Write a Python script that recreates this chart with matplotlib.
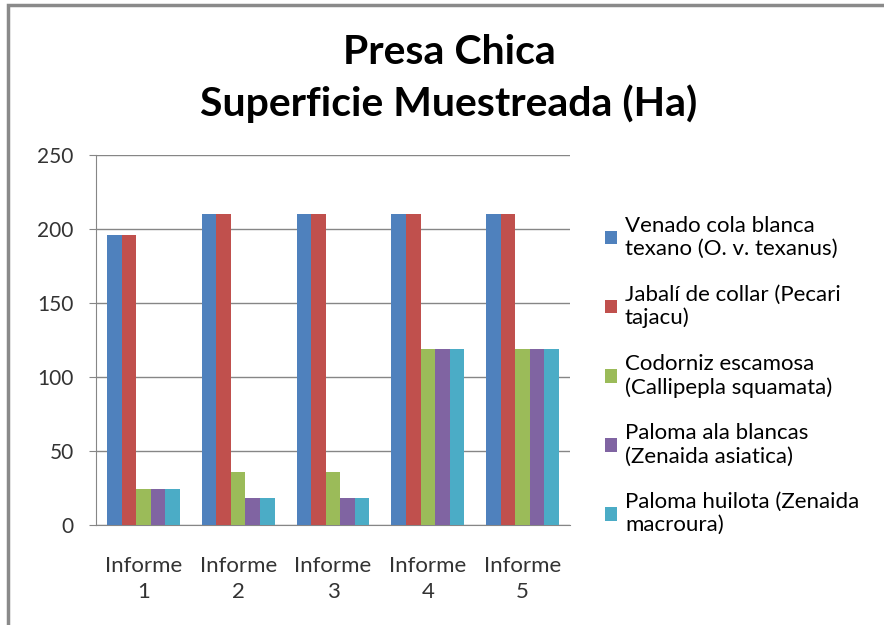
import numpy as np
import matplotlib.pyplot as plt
from matplotlib.patches import Rectangle

plt.rcParams['font.family'] = ['Lato', 'DejaVu Sans']

# data
categories = ["Informe\n1", "Informe\n2", "Informe\n3", "Informe\n4", "Informe\n5"]
venado = [196, 210, 210, 210, 210]
jabali = [196, 210, 210, 210, 210]
codorniz = [24, 36, 36, 119, 119]
paloma_ala = [24, 18, 18, 119, 119]
paloma_huilota = [24, 18, 18, 119, 119]

series = [venado, jabali, codorniz, paloma_ala, paloma_huilota]
labels = ["Venado cola blanca\ntexano (O. v. texanus)",
          "Jabalí de collar (Pecari\ntajacu)",
          "Codorniz escamosa\n(Callipepla squamata)",
          "Paloma ala blancas\n(Zenaida asiatica)",
          "Paloma huilota (Zenaida\nmacroura)"]
colors = ["#4F81BD", "#C0504D", "#9BBB59", "#8064A2", "#4BACC6"]

fig = plt.figure(figsize=(8.84, 6.25), dpi=100)
ax = fig.add_axes([96/884, 1-525/625, (570-96)/884, 370/625])

# outer chart border (only left and top visible in the reference)
fig.patches.append(Rectangle((8/884, -0.05), 1.2, 1-5/625+0.05, transform=fig.transFigure,
                             fill=False, edgecolor="#8a8a8a", linewidth=2.5))

x = np.arange(len(categories))
w = 1/6.5
for i, (vals, c, lab) in enumerate(zip(series, colors, labels)):
    ax.bar(x + (i-2)*w, vals, width=w, color=c, label=lab, zorder=3)

ax.set_xlim(-0.5, len(categories)-0.5)
ax.set_ylim(0, 250)
ax.set_yticks(range(0, 251, 50))
ax.yaxis.grid(True, color="#868686", linewidth=1, zorder=0)
ax.set_xticks(x)
ax.set_xticklabels(categories, fontsize=16, color="#333333", linespacing=1.4)
ax.tick_params(axis='y', labelsize=15, labelcolor="#333333", length=5, color="#868686", pad=11)
ax.tick_params(axis='x', length=0, pad=22)
for s in ['top', 'right']:
    ax.spines[s].set_visible(False)
ax.spines['left'].set_color("#868686")
ax.spines['bottom'].set_color("#868686")

fig.text(0.508, 0.945, "Presa Chica\nSuperficie Muestreada (Ha)", ha='center', va='top',
         fontsize=29.5, fontweight='bold', linespacing=1.42)

ax.legend(loc='upper left', bbox_to_anchor=(1.055, 0.86), frameon=False, fontsize=16,
          handlelength=0.55, handleheight=0.55, handletextpad=0.35, labelspacing=1.15,
          borderaxespad=0)

fig.savefig("out.png", dpi=100)
